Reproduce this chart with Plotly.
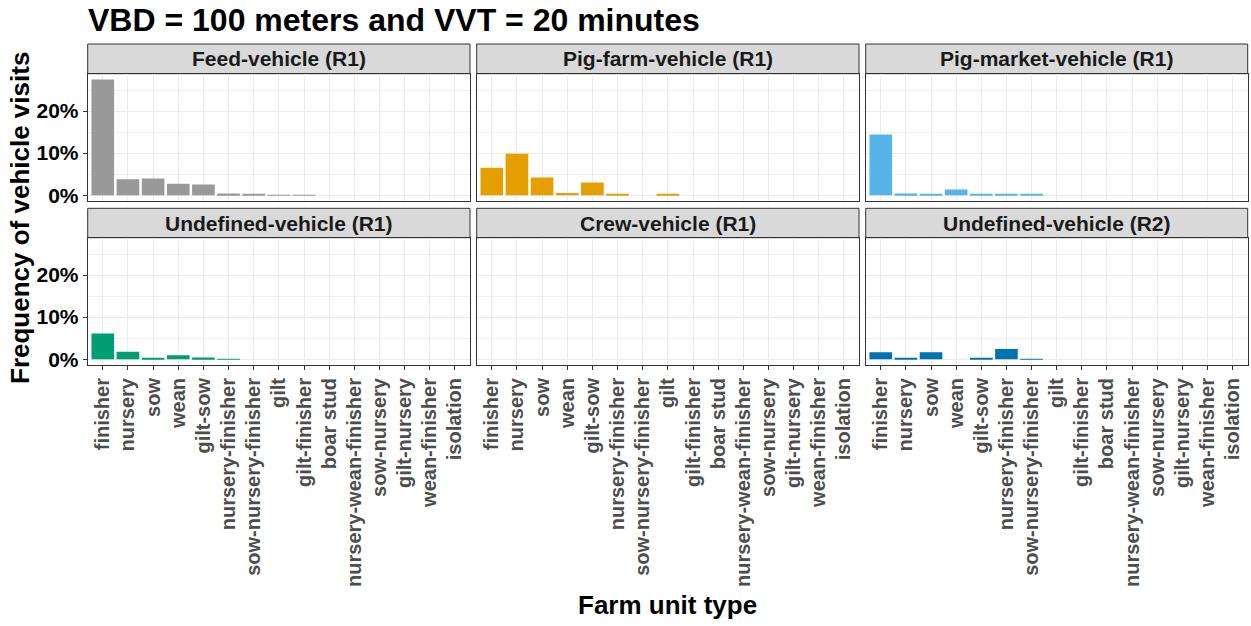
import plotly.graph_objects as go

# ---- data ---------------------------------------------------------------
CATEGORIES = [
    "finisher", "nursery", "sow", "wean", "gilt-sow", "nursery-finisher",
    "sow-nursery-finisher", "gilt", "gilt-finisher", "boar stud",
    "nursery-wean-finisher", "sow-nursery", "gilt-nursery", "wean-finisher",
    "isolation",
]
PANELS = [
    "Feed-vehicle (R1)", "Pig-farm-vehicle (R1)", "Pig-market-vehicle (R1)",
    "Undefined-vehicle (R1)", "Crew-vehicle (R1)", "Undefined-vehicle (R2)",
]
# frequencies in %
FEED_R1 = [27.5, 3.8, 4.0, 2.7, 2.55, 0.4, 0.2, 0.1, 0.1, 0, 0, 0, 0, 0, 0]
PIGFARM_R1 = [6.5, 9.85, 4.2, 0.5, 3.0, 0.3, 0, 0.3, 0, 0, 0, 0, 0, 0, 0]
PIGMARKET_R1 = [14.4, 0.4, 0.15, 1.35, 0.15, 0.15, 0.3, 0, 0, 0, 0, 0, 0, 0, 0]
UNDEF_R1 = [6.1, 1.75, 0.35, 0.95, 0.4, 0.1, 0, 0, 0, 0, 0, 0, 0, 0, 0]
CREW_R1 = [0, 0, 0, 0, 0, 0, 0, 0, 0, 0, 0, 0, 0, 0, 0]
UNDEF_R2 = [1.65, 0.35, 1.65, 0, 0.2, 2.45, 0.1, 0, 0, 0, 0, 0, 0, 0, 0]
SERIES = [FEED_R1, PIGFARM_R1, PIGMARKET_R1, UNDEF_R1, CREW_R1, UNDEF_R2]
COLORS = ["#999999", "#E69F00", "#56B4E9", "#009E73", "#F0E442", "#0072B2"]

# ---- layout geometry (pixels on a 1251x626 canvas) ----------------------
W, H = 1251, 626
COLS = [(87.7, 470.0), (476.7, 859.0), (865.7, 1247.7)]
ROWS = [  # (strip top, strip bottom / plot top, plot bottom)
    (44.0, 73.7, 201.0),
    (208.3, 237.7, 365.0),
]
FONT = "Liberation Sans, Arial, sans-serif"

ymax = max(max(s) for s in SERIES)
pad = 0.05 * ymax
YRANGE = [-pad, ymax + pad]


def px(x):
    return x / W


def py(y):
    return 1 - y / H


fig = go.Figure()
shapes, annotations = [], []

for i, (name, vals, color) in enumerate(zip(PANELS, SERIES, COLORS)):
    r, c = divmod(i, 3)
    n = i + 1
    sfx = str(n) if n > 1 else ""
    x0, x1 = COLS[c]
    st, sb, pb = ROWS[r]

    fig.add_trace(go.Bar(
        x=CATEGORIES, y=vals, marker_color=color, marker_line_width=0,
        xaxis="x" + sfx, yaxis="y" + sfx, showlegend=False,
    ))

    fig.layout["xaxis" + sfx] = dict(
        domain=[px(x0), px(x1)], anchor="y" + sfx, automargin=False,
        type="category", categoryorder="array", categoryarray=CATEGORIES,
        range=[-0.6, len(CATEGORIES) - 0.4],
        showgrid=True, gridcolor="#EBEBEB", gridwidth=1,
        showline=True, linecolor="#333333", linewidth=1, mirror=True,
        zeroline=False,
        ticks="outside" if r == 1 else "", ticklen=4, tickcolor="#333333",
        showticklabels=(r == 1), tickangle=-90,
        tickfont=dict(family=FONT, size=20, color="#4D4D4D", weight="bold"),
    )
    fig.layout["yaxis" + sfx] = dict(
        domain=[py(pb), py(sb)], anchor="x" + sfx, automargin=False,
        range=YRANGE, tick0=0, dtick=10, ticksuffix="%",
        showgrid=True, gridcolor="#EBEBEB", gridwidth=1,
        minor=dict(dtick=5, tick0=0, showgrid=True, gridcolor="#F2F2F2", gridwidth=0.6),
        showline=True, linecolor="#333333", linewidth=1, mirror=True,
        zeroline=False,
        ticks="outside" if c == 0 else "", ticklen=4, tickcolor="#333333",
        showticklabels=(c == 0),
        tickfont=dict(family=FONT, size=21, color="#000000", weight="bold"),
    )

    # facet strip
    shapes.append(dict(
        type="rect", xref="paper", yref="paper",
        x0=px(x0), x1=px(x1), y0=py(sb), y1=py(st),
        fillcolor="#D9D9D9", line=dict(color="#333333", width=1), layer="below",
    ))
    annotations.append(dict(
        text=f"<b>{name}</b>", xref="paper", yref="paper",
        x=(px(x0) + px(x1)) / 2, y=(py(sb) + py(st)) / 2,
        xanchor="center", yanchor="middle", showarrow=False,
        font=dict(family=FONT, size=21, color="#1A1A1A"),
    ))

# axis titles and main title
annotations.append(dict(
    text="<b>Frequency of vehicle visits</b>", xref="paper", yref="paper",
    x=px(20), y=py(218), xanchor="center", yanchor="middle", textangle=-90,
    showarrow=False, font=dict(family=FONT, size=26, color="#000000"),
))
annotations.append(dict(
    text="<b>Farm unit type</b>", xref="paper", yref="paper",
    x=px(667), y=py(605), xanchor="center", yanchor="middle",
    showarrow=False, font=dict(family=FONT, size=26, color="#000000"),
))

fig.update_layout(
    width=W, height=H,
    margin=dict(l=0, r=0, t=0, b=0),
    paper_bgcolor="white", plot_bgcolor="white",
    bargap=0.1,
    title=dict(
        text="<b>VBD = 100 meters and VVT = 20 minutes</b>",
        x=px(88), xanchor="left", y=py(20), yanchor="middle",
        font=dict(family=FONT, size=32, color="#000000"),
    ),
    shapes=shapes, annotations=annotations,
)

fig.write_html(
    "out.html",
    config={"displayModeBar": False},
    post_script="document.body.style.margin='0';",
)
